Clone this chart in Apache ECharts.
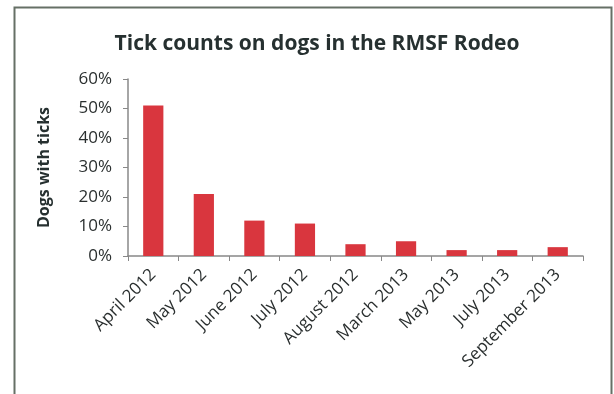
<!DOCTYPE html>
<html><head><meta charset="utf-8">
<script src="https://cdn.jsdelivr.net/npm/echarts@6/dist/echarts.min.js"></script>
<style>html,body{margin:0;padding:0;background:#fff}#c{width:614px;height:394px}</style>
</head><body><div id="c"></div>
<script>
const categories = ["April 2012","May 2012","June 2012","July 2012","August 2012","March 2013","May 2013","July 2013","September 2013"];
const values = [51, 21, 12, 11, 4, 5, 2, 2, 3];
const titleText = "Tick counts on dogs in the RMSF Rodeo";
const yAxisName = "Dogs with ticks";

const chart = echarts.init(document.getElementById('c'), null, {renderer:'canvas'});
chart.setOption({
  animation:false,
  backgroundColor:'#fff',
  title:{text:titleText,left:312,top:29,textAlign:'center',
    textStyle:{fontFamily:'Open Sans',fontSize:21,fontWeight:'bold',color:'#263030'}},
  graphic:[{type:'rect',shape:{x:14.5,y:7.5,width:597,height:400},
    style:{fill:'none',stroke:'#667066',lineWidth:2}}],
  grid:{left:128,right:31,top:79,bottom:138},
  xAxis:{type:'category',data:categories,
    axisLine:{lineStyle:{color:'#888',width:1.5}},
    axisTick:{show:true,alignWithLabel:false,length:5,lineStyle:{color:'#888'}},
    axisLabel:{rotate:45,fontFamily:'Open Sans',fontSize:17,color:'#2a2f2f',margin:16,interval:0}},
  yAxis:{type:'value',min:0,max:60,interval:10,
    name:yAxisName,nameLocation:'middle',nameGap:76,
    nameTextStyle:{fontFamily:'Open Sans',fontSize:16,fontWeight:'bold',color:'#263030'},
    axisLine:{show:true,lineStyle:{color:'#888',width:1.5}},
    axisTick:{show:true,length:5,lineStyle:{color:'#888'}},
    splitLine:{show:false},
    axisLabel:{formatter:'{value}%',fontFamily:'Open Sans',fontSize:17,color:'#2a2f2f',margin:16}},
  series:[{type:'bar',data:values,barWidth:'40%',itemStyle:{color:'#d9363e'}}]
});
</script></body></html>
